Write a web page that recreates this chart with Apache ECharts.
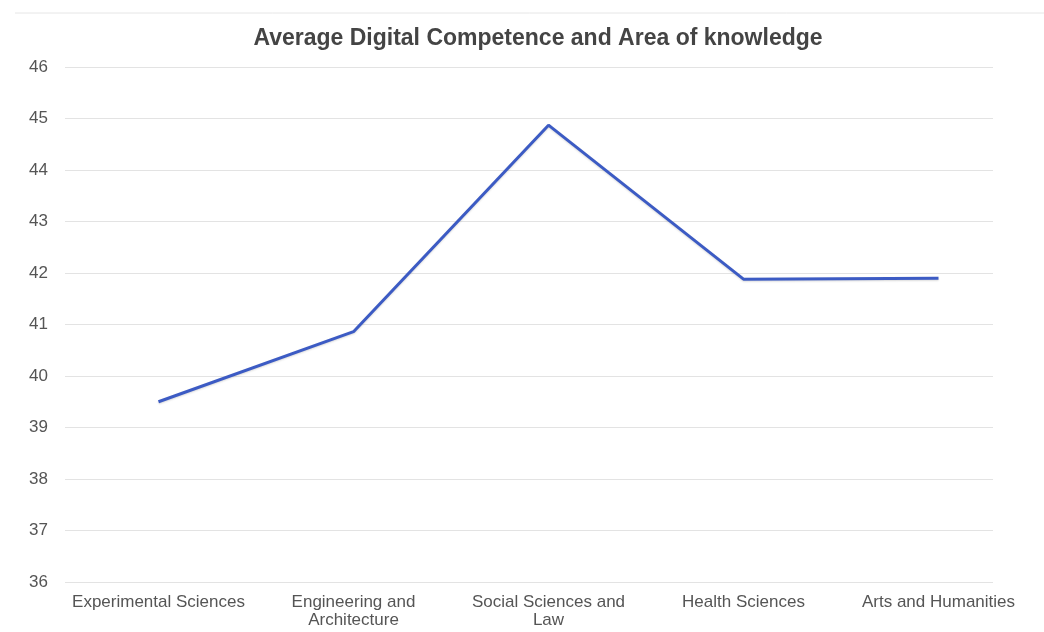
<!DOCTYPE html>
<html>
<head>
<meta charset="utf-8">
<script src="https://cdn.jsdelivr.net/npm/echarts@6/dist/echarts.min.js"></script>
<style>html,body{margin:0;padding:0;background:#fff;}#c{width:1044px;height:632px;}</style>
</head>
<body>
<div id="c"></div>
<script>
const titleText = 'Average Digital Competence and Area of knowledge';
const categories = ['Experimental Sciences', 'Engineering and\nArchitecture', 'Social Sciences and\nLaw', 'Health Sciences', 'Arts and Humanities'];
const values = [39.5, 40.86, 44.87, 41.88, 41.9];
const yMin = 36, yMax = 46, yStep = 1;

const chart = echarts.init(document.getElementById('c'));
const font = '"Liberation Sans", Arial, sans-serif';
chart.setOption({
  backgroundColor: '#ffffff',
  animation: false,
  title: {
    text: titleText, left: 533, textAlign: 'center', top: 22,
    textStyle: { fontFamily: font, fontSize: 23, fontWeight: 'bold', color: '#444444' }
  },
  graphic: [{
    type: 'line', shape: { x1: 15, y1: 13, x2: 1044, y2: 13 },
    style: { stroke: '#e6e6e6', lineWidth: 1 }
  }],
  grid: [
    { left: 65, right: 51, top: 67, bottom: 50 },
    { left: 61, right: 8, top: 67, bottom: 50 }
  ],
  xAxis: [
    { type: 'category', gridIndex: 0, data: categories, show: false },
    {
      type: 'category', gridIndex: 1, data: categories, boundaryGap: true,
      axisLine: { show: false }, axisTick: { show: false },
      axisLabel: { fontFamily: font, fontSize: 17, color: '#555555', margin: 11, lineHeight: 18, interval: 0 }
    }
  ],
  yAxis: [
    {
      type: 'value', gridIndex: 0, min: yMin, max: yMax, interval: yStep,
      axisLine: { show: false }, axisTick: { show: false },
      axisLabel: { fontFamily: font, fontSize: 17, color: '#555555', margin: 17 },
      splitLine: { lineStyle: { color: '#e3e3e3', width: 1 } }
    },
    {
      type: 'value', gridIndex: 1, min: yMin, max: yMax, interval: yStep,
      show: false, splitLine: { show: false }
    }
  ],
  series: [{
    type: 'line', xAxisIndex: 1, yAxisIndex: 1, data: values,
    symbol: 'none',
    lineStyle: { color: '#3c5bc4', width: 3, shadowColor: 'rgba(0,0,0,0.15)', shadowBlur: 2, shadowOffsetY: 1 }
  }]
});
</script>
</body>
</html>
